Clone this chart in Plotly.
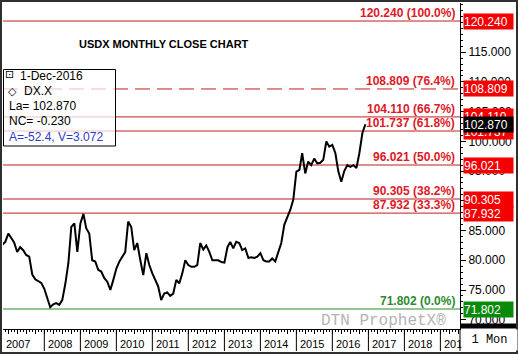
import pandas as pd
import plotly.graph_objects as go

# ---------------- data ----------------
START_MONTH = "2006-11-01"
CLOSE_2006 = [82.6, 83.1]
CLOSE_2007 = [84.5, 83.8, 83.0, 81.4, 82.2, 81.7, 80.9, 80.6, 77.6, 76.8, 76.5, 76.2]
CLOSE_2008 = [75.2, 73.6, 72.1, 72.6, 72.8, 72.5, 73.3, 76.0, 79.5, 85.6, 86.2, 81.4]
CLOSE_2009 = [86.2, 87.8, 85.4, 84.5, 80.0, 79.8, 78.4, 78.1, 77.0, 76.4, 75.0, 76.7]
CLOSE_2010 = [78.6, 79.8, 80.6, 81.4, 86.5, 85.6, 81.7, 82.9, 80.0, 77.5, 81.2, 79.2]
CLOSE_2011 = [77.8, 76.7, 75.6, 73.3, 74.4, 74.6, 74.0, 74.4, 76.7, 76.1, 77.8, 80.0]
CLOSE_2012 = [79.2, 78.9, 78.9, 79.2, 82.9, 81.8, 82.5, 81.4, 80.0, 80.0, 80.0, 79.7]
CLOSE_2013 = [79.6, 82.2, 83.1, 82.0, 83.1, 82.9, 81.7, 82.0, 80.4, 80.5, 80.4, 80.6]
CLOSE_2014 = [81.2, 80.0, 79.8, 79.8, 80.3, 79.8, 81.2, 82.9, 86.0, 87.1, 88.5, 90.2]
CLOSE_2015 = [94.9, 95.2, 98.0, 94.6, 96.6, 96.0, 97.1, 96.3, 96.4, 96.9, 100.0, 99.1]
CLOSE_2016 = [99.4, 98.0, 95.0, 93.2, 95.0, 96.0, 95.7, 96.0, 95.5, 98.0, 101.4, 102.870]

FIB_VALUES = [120.240, 108.809, 104.110, 101.737, 96.021, 90.305, 87.932, 71.802]
FIB_PCTS = ["100.0%", "76.4%", "66.7%", "61.8%", "50.0%", "38.2%", "33.3%", "0.0%"]
FIB_DASHED = [False, True, False, False, False, False, False, False]
FIB_KIND = ["red", "red", "red", "red", "red", "red", "red", "green"]

LAST_VALUE = 102.870
Y_TICKS = [70, 75, 80, 85, 90, 95, 100, 105, 110, 115]
YEARS = [2007, 2008, 2009, 2010, 2011, 2012, 2013, 2014, 2015, 2016, 2017, 2018, 2019]

LEGEND_LINES = ["1-Dec-2016", "DX.X", "La= 102.870", "NC= -0.230", "A=-52.4, V=3.072"]
TITLE = "USDX MONTHLY CLOSE CHART"

X_RANGE = ["2006-11-08", "2019-07-19"]
Y_RANGE = [68.44, 123.27]

# ---------------- helpers (layout pixels -> paper) ----------------
W_IMG, H_IMG = 518, 354
ML, MR, MT, MB = 3, 58, 3, 25
PW = W_IMG - ML - MR
PH = H_IMG - MT - MB


def pxx(x):
    return (x - ML) / PW


def pxy(y):
    return (MT + PH - y) / PH


closes = (CLOSE_2006 + CLOSE_2007 + CLOSE_2008 + CLOSE_2009 + CLOSE_2010 + CLOSE_2011
          + CLOSE_2012 + CLOSE_2013 + CLOSE_2014 + CLOSE_2015 + CLOSE_2016)
months = pd.date_range(START_MONTH, periods=len(closes), freq="MS")

FONT = "Liberation Sans, Arial, sans-serif"
MONO = "Liberation Mono, Courier New, monospace"
RED_LINE = "#c01e1e"
RED_TEXT = "#dc1a28"
RED_BOX = "#f40000"
GREEN_LINE = "#2a8a2a"
GREEN_TEXT = "#2f8a2f"
GREEN_BOX = "#0a8a0a"

fig = go.Figure()
fig.add_trace(go.Scatter(x=months, y=closes, mode="lines",
                         line=dict(color="black", width=2), showlegend=False,
                         hoverinfo="skip"))

shapes = []
annotations = []

# Fibonacci level lines and labels
for v, pct, dashed, kind in zip(FIB_VALUES, FIB_PCTS, FIB_DASHED, FIB_KIND):
    lc = GREEN_LINE if kind == "green" else RED_LINE
    tc = GREEN_TEXT if kind == "green" else RED_TEXT
    shapes.append(dict(type="line", xref="paper", yref="y", x0=0, x1=1, y0=v, y1=v,
                       line=dict(color=lc, width=1, dash="15px,7px" if dashed else "solid"),
                       layer="below"))
    annotations.append(dict(xref="paper", yref="y", x=1, y=v, xanchor="right", yanchor="bottom",
                            xshift=-3, yshift=-1, showarrow=False,
                            text=f"<b>{v:.3f} ({pct})</b>",
                            font=dict(family=FONT, size=12, color=tc)))

# year separators in the bottom strip
for yr in YEARS[1:]:
    shapes.append(dict(type="line", xref="x", yref="paper", x0=f"{yr}-01-01", x1=f"{yr}-01-01",
                       y0=0, y1=pxy(351), line=dict(color="black", width=1)))

# year labels (first one is clamped to the left edge of the strip)
for i, yr in enumerate(YEARS):
    first = i == 0
    annotations.append(dict(xref="x", yref="paper", x=X_RANGE[0] if first else f"{yr}-01-01",
                            y=pxy(343.5), xanchor="left", yanchor="middle",
                            xshift=1 if first else 2, showarrow=False,
                            text=str(yr), font=dict(family=FONT, size=11, color="black")))

# right-panel decorations
shapes.append(dict(type="line", xref="paper", yref="paper", x0=1, x1=1, y0=pxy(351), y1=0,
                   line=dict(color="black", width=1)))
shapes.append(dict(type="rect", xref="paper", yref="paper", x0=1, x1=pxx(517), y0=pxy(328.5),
                   y1=pxy(323.5), fillcolor="black", line=dict(width=0)))
# outer frame
shapes.append(dict(type="rect", xref="paper", yref="paper", x0=pxx(1), x1=pxx(517),
                   y0=pxy(353), y1=pxy(1), line=dict(color="#303030", width=2),
                   fillcolor="rgba(0,0,0,0)"))
# info box frame (semi-transparent, lines show through faintly)
shapes.append(dict(type="rect", xref="paper", yref="paper", x0=pxx(3.5), x1=pxx(115.5),
                   y0=pxy(146), y1=pxy(69.5), line=dict(color="black", width=1),
                   fillcolor="rgba(255,255,255,0.72)", layer="above"))


def price_box(v, bg):
    return dict(xref="paper", yref="y", x=1, y=v, xanchor="left", yanchor="middle", xshift=3,
                showarrow=False, text=f"{v:.3f}", bgcolor=bg, borderpad=0, width=49, height=15,
                align="left", font=dict(family=FONT, size=12, color="white"))


for v, kind in zip(FIB_VALUES[:4], FIB_KIND[:4]):
    annotations.append(price_box(v, GREEN_BOX if kind == "green" else RED_BOX))
annotations.append(price_box(LAST_VALUE, "black"))
for v, kind in zip(FIB_VALUES[4:], FIB_KIND[4:]):
    annotations.append(price_box(v, GREEN_BOX if kind == "green" else RED_BOX))

# title
annotations.append(dict(xref="paper", yref="paper", x=pxx(163.5), y=pxy(44), xanchor="center",
                        yanchor="middle", showarrow=False, text=f"<b>{TITLE}</b>",
                        font=dict(family=FONT, size=11, color="black")))

# info box text lines
legend_y = [76, 91, 106, 121, 136.5]
legend_x = [18, 22, 7, 7, 7]
legend_col = ["black", "black", "black", "black", "#2c3cc8"]
for txt, yy, xx, col in zip(LEGEND_LINES, legend_y, legend_x, legend_col):
    annotations.append(dict(xref="paper", yref="paper", x=pxx(xx), y=pxy(yy), xanchor="left",
                            yanchor="middle", showarrow=False, text=txt,
                            font=dict(family=FONT, size=12, color=col)))
# info box icons
annotations.append(dict(xref="paper", yref="paper", x=pxx(2.5), y=pxy(75), xanchor="left",
                        yanchor="middle", showarrow=False, text="⊡",
                        font=dict(family="DejaVu Sans", size=11, color="black")))
annotations.append(dict(xref="paper", yref="paper", x=pxx(5.5), y=pxy(91), xanchor="left",
                        yanchor="middle", showarrow=False, text="<b>◇</b>",
                        font=dict(family="DejaVu Sans", size=11, color="black")))

# watermark
annotations.append(dict(xref="paper", yref="paper", x=pxx(448), y=pxy(320.5), xanchor="right",
                        yanchor="middle", showarrow=False, text="DTN ProphetX®",
                        font=dict(family=MONO, size=16, color="#b4b4b4")))

# periodicity label (also masks overflow of last year label)
annotations.append(dict(xref="paper", yref="paper", x=pxx(461), y=pxy(340.5), xanchor="left",
                        yanchor="middle", showarrow=False, text="1 Mon", width=55, height=20,
                        borderpad=0, bgcolor="white", align="center",
                        font=dict(family=MONO, size=12, color="black")))

fig.update_layout(
    width=W_IMG, height=H_IMG,
    margin=dict(l=ML, r=MR, t=MT, b=MB, pad=0),
    paper_bgcolor="white", plot_bgcolor="white",
    showlegend=False,
    shapes=shapes, annotations=annotations,
    xaxis=dict(type="date", range=X_RANGE, showgrid=False, zeroline=False,
               showline=True, linecolor="black", linewidth=1,
               ticks="outside", tickcolor="black", ticklen=4, tickwidth=1,
               dtick="M3", tick0="2007-01-01", showticklabels=False,
               minor=dict(ticks="outside", dtick="M1", tick0="2007-01-01", ticklen=2,
                          tickcolor="black")),
    yaxis=dict(side="right", range=Y_RANGE, showgrid=False, zeroline=False,
               showline=True, linecolor="black", linewidth=1,
               ticks="outside", tickcolor="black", ticklen=5, tickwidth=1,
               tickvals=Y_TICKS, ticktext=[f"{t:.3f}" for t in Y_TICKS],
               tickfont=dict(family=FONT, size=12, color="black"),
               minor=dict(ticks="outside", dtick=1, tick0=70, ticklen=2, tickcolor="black")),
)

fig.write_html("out.html")
